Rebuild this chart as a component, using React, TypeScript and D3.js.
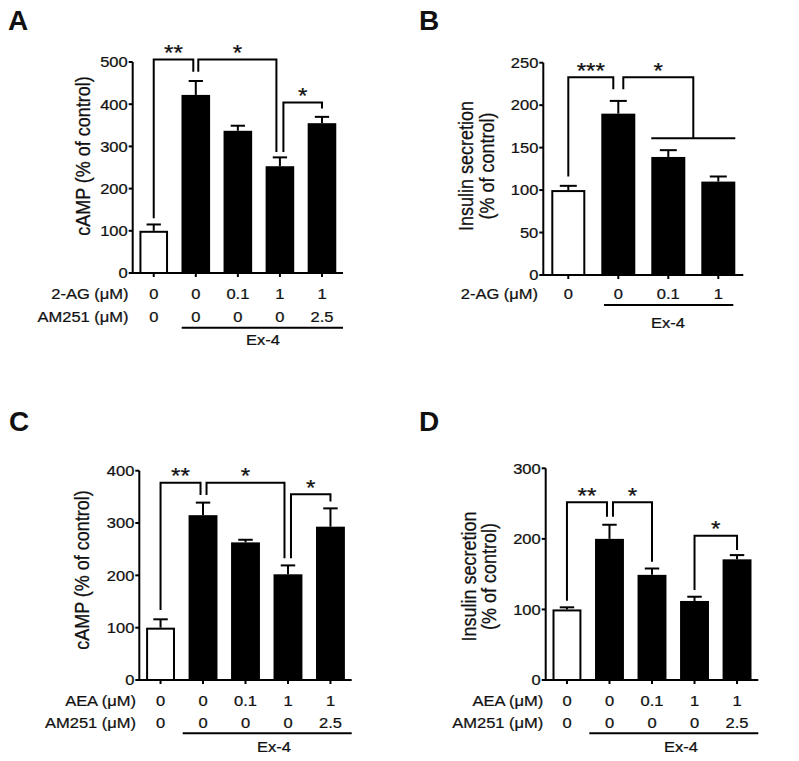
import React from "react";
import * as d3 from "d3";

// ---------- data ----------
const ROW_2AG_A = ["0", "0", "0.1", "1", "1"];
const ROW_AM251 = ["0", "0", "0", "0", "2.5"];
const CAMP_A = [100, 422, 337, 253, 355];
const ERR_A = [15, 33, 12, 21, 15];
const TICKS_A = [0, 100, 200, 300, 400, 500];

const ROW_2AG_B = ["0", "0", "0.1", "1"];
const INS_B = [100, 190, 139, 110];
const ERR_B = [5, 15, 8, 6];
const TICKS_B = [0, 50, 100, 150, 200, 250];

const ROW_AEA = ["0", "0", "0.1", "1", "1"];
const CAMP_C = [100, 315, 263, 202, 293];
const ERR_C = [16, 24, 5, 17, 35];
const TICKS_C = [0, 100, 200, 300, 400];

const INS_D = [100, 200, 149, 112, 171];
const ERR_D = [3, 20, 9, 6, 6];
const TICKS_D = [0, 100, 200, 300];

// significance brackets: bar indices, bracket height & leg ends (data units)
const SIG_A = [
  { from: 0, to: 1, top: 506, yl: 130, yr: 477, dl: 0, dr: -2.5, text: "**" },
  { from: 1, to: 3, top: 506, yl: 477, yr: 287, dl: 2.5, dr: -3.5, text: "*" },
  { from: 3, to: 4, top: 404, yl: 287, yr: 390, dl: 3.5, dr: 0, text: "*" },
];
const SIG_B = [
  { from: 0, to: 1, top: 233, yl: 116, yr: 218.7, dl: 0, dr: -5, text: "***" },
  { from: 1, to: 2.5, top: 233, yl: 218.7, yr: 161, dl: 5, dr: 0, text: "*" },
];
const SIG_C = [
  { from: 0, to: 1, top: 377, yl: 134, yr: 353.6, dl: 0, dr: -2.5, text: "**" },
  { from: 1, to: 3, top: 377, yl: 353.6, yr: 232.6, dl: 3.5, dr: -3.5, text: "*" },
  { from: 3, to: 4, top: 355, yl: 232.6, yr: 341, dl: 3, dr: 0, text: "*" },
];
const SIG_D = [
  { from: 0, to: 1, top: 252, yl: 112.4, yr: 231.4, dl: 0, dr: -2.5, text: "**" },
  { from: 1, to: 2, top: 252, yl: 231.4, yr: 167.6, dl: 3.5, dr: 0, text: "*" },
  { from: 3, to: 4, top: 204.5, yl: 127.5, yr: 184.2, dl: 0, dr: 0, text: "*" },
];

const FONT = "'Liberation Sans', Arial, Helvetica, sans-serif";
const INK = "#111";

function T({ x, y, children, anchor = "middle", size = 15, weight = 400, rotate = 0, sx = 1.1 }: any) {
  return (
    <text
      transform={`translate(${x},${y}) scale(${sx},1)${rotate ? ` rotate(${rotate})` : ""}`}
      textAnchor={anchor}
      fontSize={size}
      fontWeight={weight}
      fontFamily={FONT}
      fill={INK}
      stroke={weight === 400 ? INK : "none"}
      strokeWidth={0.25}
    >
      {children}
    </text>
  );
}

function Panel({ cfg }: any) {
  const n = cfg.values.length;
  const x = d3.scalePoint<number>().domain(d3.range(n)).range([cfg.ax0, cfg.ax1]).padding(0.5);
  const step = x.step();
  const bw = step * 0.68;
  const y = d3.scaleLinear().domain([0, cfg.max]).range([cfg.yb, cfg.yt]);
  const y0 = y(0);
  const cx = (i: number) => {
    const f = Math.floor(i);
    if (f === i) return x(i)!;
    return x(f)! + (i - f) * step;
  };
  return (
    <g>
      <T x={cfg.letter[0]} y={cfg.letter[1]} size={28} weight={700} anchor="start" sx={1}>
        {cfg.name}
      </T>
      {/* bars */}
      {cfg.values.map((v: number, i: number) => (
        <rect
          key={"b" + i}
          x={x(i)! - bw / 2 + (i === 0 ? 1 : 0)}
          y={y(v) + (i === 0 ? 1 : 0)}
          width={bw - (i === 0 ? 2 : 0)}
          height={y0 - y(v) - (i === 0 ? 1 : 0)}
          fill={i === 0 ? "#fff" : "#000"}
          stroke={i === 0 ? "#000" : "none"}
          strokeWidth={2}
        />
      ))}
      {/* error bars */}
      {cfg.values.map((v: number, i: number) => (
        <g key={"e" + i} stroke="#000" strokeWidth={2}>
          <line x1={x(i)} x2={x(i)} y1={y(v)} y2={y(v + cfg.errs[i])} />
          <line x1={x(i)! - bw / 4} x2={x(i)! + bw / 4} y1={y(v + cfg.errs[i])} y2={y(v + cfg.errs[i])} />
        </g>
      ))}
      {/* axes */}
      <g stroke="#000" strokeWidth={2} fill="none">
        <line x1={cfg.ax0} x2={cfg.ax0} y1={y0 + 1} y2={y(cfg.max)} />
        <line x1={cfg.ax0 - 1} x2={cfg.ax1} y1={y0} y2={y0} />
        {cfg.ticks.map((t: number) => (
          <line key={"yt" + t} x1={cfg.ax0 - 4} x2={cfg.ax0} y1={y(t)} y2={y(t)} />
        ))}
        {cfg.values.map((_: number, i: number) => (
          <line key={"xt" + i} x1={x(i)} x2={x(i)} y1={y0} y2={y0 + 4} />
        ))}
      </g>
      {cfg.ticks.map((t: number) => (
        <T key={"tl" + t} x={cfg.ax0 - 5} y={y(t) + 5.3} anchor="end">
          {t}
        </T>
      ))}
      {/* y label */}
      {cfg.ylabel.map((s: string, k: number) => (
        <T key={"yl" + k} x={cfg.ylx[k]} y={cfg.yly} rotate={-90} size={18}>
          {s}
        </T>
      ))}
      {/* rows */}
      {cfg.rows.map((r: any, k: number) => (
        <g key={"r" + k}>
          <T x={cfg.rowLabelX} y={cfg.rowY[k]} anchor="end">
            {r.label}
          </T>
          {r.vals.map((s: string, i: number) => (
            <T key={i} x={x(i)} y={cfg.rowY[k]}>
              {s}
            </T>
          ))}
        </g>
      ))}
      <line x1={cfg.ex[0]} x2={cfg.ex[1]} y1={cfg.exY} y2={cfg.exY} stroke="#000" strokeWidth={2} />
      <T x={cfg.exTextX} y={cfg.exTextY}>
        Ex-4
      </T>
      {/* brackets */}
      {cfg.sig.map((s: any, k: number) => {
        const xl = cx(s.from) + s.dl;
        const xr = cx(s.to) + s.dr;
        const yt = y(s.top);
        return (
          <g key={"s" + k}>
            <path
              d={`M${xl},${y(s.yl)}V${yt}H${xr}V${y(s.yr)}`}
              fill="none"
              stroke="#000"
              strokeWidth={2}
            />
            <T x={(xl + xr) / 2} y={yt + 0.5} size={22}>
              {s.text}
            </T>
          </g>
        );
      })}
      {cfg.extraLine && (
        <line
          x1={cx(cfg.extraLine[0]) - bw / 2}
          x2={cx(cfg.extraLine[1]) + bw / 2}
          y1={y(cfg.extraLine[2])}
          y2={y(cfg.extraLine[2])}
          stroke="#000"
          strokeWidth={2}
        />
      )}
    </g>
  );
}

const PANELS = [
  {
    name: "A", letter: [8, 29.5],
    values: CAMP_A, errs: ERR_A, ticks: TICKS_A, max: 500,
    ax0: 132.7, ax1: 343, yb: 273, yt: 62,
    ylabel: ["cAMP (% of control)"], ylx: [89.5], yly: 156,
    rows: [{ label: "2-AG (\u03bcM)", vals: ROW_2AG_A }, { label: "AM251 (\u03bcM)", vals: ROW_AM251 }],
    rowLabelX: 128.5, rowY: [299.3, 321.7],
    ex: [181.7, 343], exY: 327.7, exTextX: 263, exTextY: 345,
    sig: SIG_A,
  },
  {
    name: "B", letter: [419, 29.5],
    values: INS_B, errs: ERR_B, ticks: TICKS_B, max: 250,
    ax0: 543.3, ax1: 743.3, yb: 275, yt: 62.7,
    ylabel: ["Insulin secretion", "(% of control)"], ylx: [473, 494], yly: 166,
    rows: [{ label: "2-AG (\u03bcM)", vals: ROW_2AG_B }],
    rowLabelX: 538, rowY: [299.3],
    ex: [604, 733.3], exY: 305, exTextX: 668, exTextY: 328.3,
    sig: SIG_B, extraLine: [2, 3, 161],
  },
  {
    name: "C", letter: [9, 430.5],
    values: CAMP_C, errs: ERR_C, ticks: TICKS_C, max: 400,
    ax0: 139.3, ax1: 351.7, yb: 680, yt: 470.7,
    ylabel: ["cAMP (% of control)"], ylx: [88.5], yly: 570,
    rows: [{ label: "AEA (\u03bcM)", vals: ROW_AEA }, { label: "AM251 (\u03bcM)", vals: ROW_AM251 }],
    rowLabelX: 136, rowY: [706, 728.3],
    ex: [182.7, 351.7], exY: 733.3, exTextX: 274, exTextY: 751.7,
    sig: SIG_C,
  },
  {
    name: "D", letter: [419, 430.5],
    values: INS_D, errs: ERR_D, ticks: TICKS_D, max: 300,
    ax0: 545.7, ax1: 758.3, yb: 680, yt: 468.3,
    ylabel: ["Insulin secretion", "(% of control)"], ylx: [475.5, 496], yly: 576.5,
    rows: [{ label: "AEA (\u03bcM)", vals: ROW_AEA }, { label: "AM251 (\u03bcM)", vals: ROW_AM251 }],
    rowLabelX: 543.3, rowY: [706, 728.3],
    ex: [589.3, 758.3], exY: 733.3, exTextX: 681, exTextY: 751.7,
    sig: SIG_D,
  },
];

export default function App() {
  return (
    <svg
      width={799}
      height={761}
      viewBox="0 0 799 761"
      style={{ position: "absolute", left: 0, top: 0, background: "#fff" }}
    >
      <rect width={799} height={761} fill="#fff" />
      {PANELS.map((p) => (
        <Panel key={p.name} cfg={p} />
      ))}
    </svg>
  );
}
